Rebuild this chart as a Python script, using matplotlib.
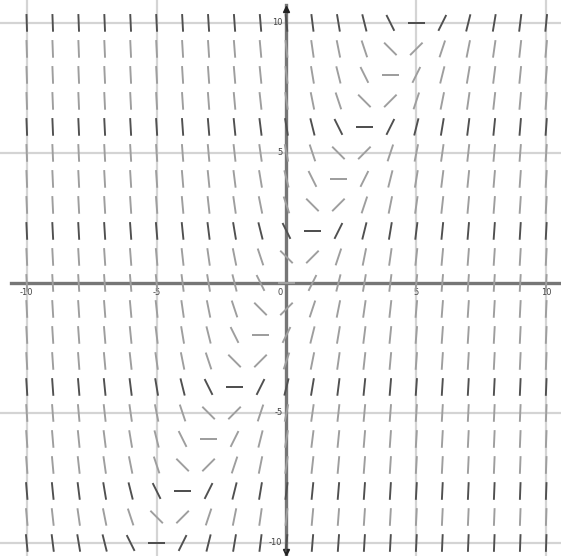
import matplotlib
matplotlib.use("Agg")
import matplotlib.pyplot as plt
import numpy as np

# slope field for dy/dx = 2x - y, sampled on the integer grid
x_pts = list(range(-10, 11))
y_pts = list(range(-10, 11))
tick_vals = [-10, -5, 0, 5, 10]
tick_labels = ["-10", "-5", "0", "5", "10"]

seg_len = 0.68
dark_rows = [10, 6, 2, -4, -8, -10]

X, Y = np.meshgrid(x_pts, y_pts)
S = 2 * X - Y
ang = np.arctan(S)
U = seg_len * np.cos(ang)
V = seg_len * np.sin(ang)

cols = []
for yy in Y.ravel():
    cols.append("#505050" if yy in dark_rows else "#9e9e9e")

fig = plt.figure(figsize=(5.61, 5.56), dpi=100)
ax = fig.add_axes([0, 0, 1, 1])
ax.set_xlim(-11.03, 10.57)
ax.set_ylim(-10.5, 10.88)
ax.axis("off")

# grid every 5
for v in tick_vals:
    if v != 0:
        ax.axvline(v, color="#d4d4d4", lw=1.6, zorder=1)
        ax.axhline(v, color="#d4d4d4", lw=1.6, zorder=1)

# axes
ax.plot([-10.6, 10.6], [0, 0], color="#767676", lw=2.4, zorder=2)
ax.plot([0, 0], [-10.6, 10.7], color="#767676", lw=2.4, zorder=2)
ax.plot([0], [10.55], marker="^", ms=5, color="#222222", zorder=3)
ax.plot([0], [-10.35], marker="v", ms=5, color="#222222", zorder=3)

ax.quiver(X.ravel(), Y.ravel(), U.ravel(), V.ravel(), color=cols,
          pivot="mid", angles="xy", scale_units="xy", scale=1,
          headwidth=0, headlength=0, headaxislength=0,
          width=0.0034, zorder=4)

for v, lab in zip(tick_vals, tick_labels):
    if v == 0:
        ax.text(-0.15, -0.2, lab, fontsize=6, color="#444444", ha="right", va="top")
        continue
    ax.text(v, -0.2, lab, fontsize=6, color="#444444", ha="center", va="top")
    ax.text(-0.15, v, lab, fontsize=6, color="#444444", ha="right", va="center")

fig.savefig("out.png", dpi=100)
plt.close(fig)
